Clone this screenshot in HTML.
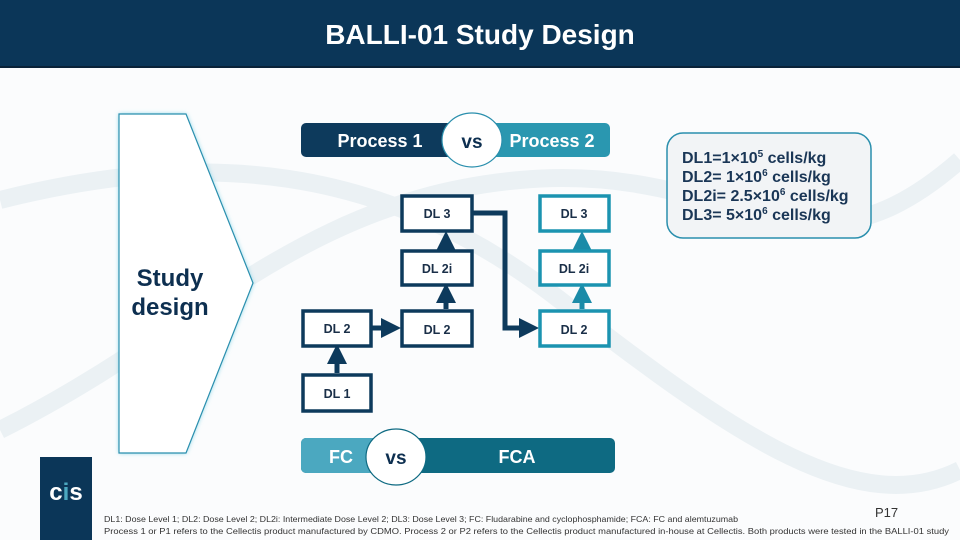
<!DOCTYPE html>
<html><head><meta charset="utf-8"><style>
html,body{margin:0;padding:0;background:#fff}
svg{display:block;font-family:"Liberation Sans",sans-serif}
</style></head><body>
<svg width="960" height="540" viewBox="0 0 960 540" xmlns="http://www.w3.org/2000/svg">
<defs>
<marker id="ad" markerWidth="4" markerHeight="4" refX="2" refY="2" orient="auto" markerUnits="strokeWidth"><path d="M0,0 L4,2 L0,4z" fill="#0d3a5c"/></marker>
<marker id="at" markerWidth="4" markerHeight="4" refX="2" refY="2" orient="auto" markerUnits="strokeWidth"><path d="M0,0 L4,2 L0,4z" fill="#1b8ba8"/></marker>
<filter id="gl" x="-20%" y="-20%" width="140%" height="140%"><feGaussianBlur stdDeviation="2.5"/></filter>
</defs>
<rect width="960" height="540" fill="#fbfcfd"/>
<g stroke="#e8eff3" stroke-width="18" fill="none" opacity="0.8">
<path d="M0,200 C200,150 380,160 560,300 S860,520 960,470"/>
<path d="M0,430 C200,330 300,200 520,180 S800,300 960,160"/>
</g>
<rect x="0" y="0" width="960" height="67" fill="#0b3658"/>
<rect x="0" y="66" width="960" height="2" fill="#0a2238"/>
<text x="480" y="44" text-anchor="middle" font-size="28" font-weight="bold" fill="#fff">BALLI-01 Study Design</text>
<polygon points="119,114 186,114 253,283 186,453 119,453" fill="#7fd3e6" filter="url(#gl)"/>
<polygon points="119,114 186,114 253,283 186,453 119,453" fill="#fff" stroke="#2b8fae" stroke-width="1.2"/>
<text x="170" y="286" text-anchor="middle" font-size="24" font-weight="bold" fill="#0d2f50">Study</text>
<text x="170" y="315" text-anchor="middle" font-size="24" font-weight="bold" fill="#0d2f50">design</text>
<rect x="301" y="123" width="170" height="34" rx="5" fill="#0d3a5c"/>
<rect x="455" y="123" width="155" height="34" rx="5" fill="#2a97b0"/>
<text x="380" y="147" text-anchor="middle" font-size="18" font-weight="bold" fill="#fff">Process 1</text>
<text x="552" y="147" text-anchor="middle" font-size="18" font-weight="bold" fill="#fff">Process 2</text>
<ellipse cx="472" cy="140" rx="30" ry="27" fill="#fff" stroke="#2a8fad" stroke-width="1.2"/>
<text x="472" y="148" text-anchor="middle" font-size="19" font-weight="bold" fill="#0d2f50">vs</text>
<rect x="667" y="133" width="204" height="105" rx="16" fill="#f2f4f6" stroke="#2a8fad" stroke-width="1.5"/>
<g font-size="16" font-weight="bold" fill="#1a3656">
<text x="682" y="163">DL1=1×10<tspan font-size="10" dy="-6">5</tspan><tspan dy="6"> cells/kg</tspan></text>
<text x="682" y="182">DL2= 1×10<tspan font-size="10" dy="-6">6</tspan><tspan dy="6"> cells/kg</tspan></text>
<text x="682" y="201">DL2i= 2.5×10<tspan font-size="10" dy="-6">6</tspan><tspan dy="6"> cells/kg</tspan></text>
<text x="682" y="220">DL3= 5×10<tspan font-size="10" dy="-6">6</tspan><tspan dy="6"> cells/kg</tspan></text>
</g>
<g stroke="#0d3a5c" stroke-width="5" fill="none">
<line x1="337" y1="373" x2="337" y2="354" marker-end="url(#ad)"/>
<line x1="372" y1="328" x2="391" y2="328" marker-end="url(#ad)"/>
<line x1="446" y1="309" x2="446" y2="293" marker-end="url(#ad)"/>
<line x1="446" y1="250" x2="446" y2="241" marker-end="url(#ad)"/>
<polyline points="473,213 505,213 505,328 529,328" marker-end="url(#ad)"/>
</g>
<g stroke="#1b8ba8" stroke-width="5" fill="none">
<line x1="582" y1="309" x2="582" y2="293" marker-end="url(#at)"/>
<line x1="582" y1="250" x2="582" y2="241" marker-end="url(#at)"/>
</g>
<g stroke="#0d3a5c" stroke-width="3.5" fill="#fff">
<rect x="402" y="196" width="70" height="35"/>
<rect x="402" y="251" width="70" height="34"/>
<rect x="402" y="311" width="70" height="35"/>
<rect x="303" y="311" width="68" height="35"/>
<rect x="303" y="375" width="68" height="36"/>
</g>
<g stroke="#1b93b0" stroke-width="3.5" fill="#fff">
<rect x="540" y="196" width="69" height="35"/>
<rect x="540" y="251" width="69" height="34"/>
<rect x="540" y="311" width="69" height="35"/>
</g>
<g font-size="12.5" font-weight="bold" fill="#1a2f48" text-anchor="middle" font-family="Liberation Sans Narrow, Liberation Sans, sans-serif">
<text x="437" y="218">DL 3</text>
<text x="437" y="273">DL 2i</text>
<text x="437" y="334">DL 2</text>
<text x="337" y="333">DL 2</text>
<text x="337" y="398">DL 1</text>
<text x="574" y="218">DL 3</text>
<text x="574" y="273">DL 2i</text>
<text x="574" y="334">DL 2</text>
</g>
<rect x="301" y="438" width="314" height="35" rx="5" fill="#0e6a82"/>
<path d="M306,438 H396 V473 H306 A5,5 0 0 1 301,468 V443 A5,5 0 0 1 306,438Z" fill="#4ba8c0"/>
<text x="341" y="463" text-anchor="middle" font-size="18" font-weight="bold" fill="#fff">FC</text>
<text x="517" y="463" text-anchor="middle" font-size="18" font-weight="bold" fill="#fff">FCA</text>
<ellipse cx="396" cy="457" rx="30" ry="28" fill="#fff" stroke="#0e6a82" stroke-width="1.2"/>
<text x="396" y="464" text-anchor="middle" font-size="19" font-weight="bold" fill="#0d2f50">vs</text>
<rect x="40" y="457" width="52" height="83" fill="#0b3658"/>
<text x="66" y="500" text-anchor="middle" font-size="24" font-weight="bold" fill="#fff">c<tspan fill="#4ba8c0">i</tspan>s</text>
<text x="875" y="517" font-size="13" fill="#333">P17</text>
<text x="104" y="522" font-size="8.6" fill="#333" textLength="634" lengthAdjust="spacingAndGlyphs">DL1: Dose Level 1; DL2: Dose Level 2; DL2i: Intermediate Dose Level 2; DL3: Dose Level 3; FC: Fludarabine and cyclophosphamide; FCA: FC and alemtuzumab</text>
<text x="104" y="534" font-size="8.6" fill="#333" textLength="845" lengthAdjust="spacingAndGlyphs">Process 1 or P1 refers to the Cellectis product manufactured by CDMO. Process 2 or P2 refers to the Cellectis product manufactured in-house at Cellectis. Both products were tested in the BALLI-01 study</text>
</svg>
</body></html>
